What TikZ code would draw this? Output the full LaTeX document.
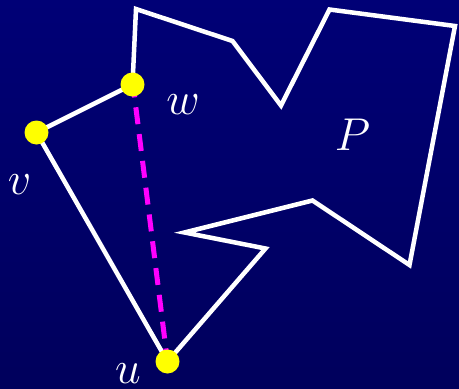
\documentclass[tikz,border=0pt]{standalone}
\usepackage{graphicx}
\usepackage{tikz}
\definecolor{bgtop}{RGB}{0,0,118}
\definecolor{bgbot}{RGB}{0,0,92}
\definecolor{dotyellow}{RGB}{255,255,0}
\definecolor{diag}{RGB}{255,0,255}
\newcommand{\biglbl}[1]{\scalebox{1.85}{\Huge$#1$}}
\begin{document}
\begin{tikzpicture}[x=1pt,y=-1pt,
  edge/.style={draw=white,line width=4.5pt,line join=miter},
  vtx/.style={circle,fill=dotyellow,minimum size=24pt,inner sep=0pt},
  lbl/.style={text=white,inner sep=0pt},
  diagonal/.style={draw=diag,line width=5pt,dash pattern=on 17pt off 10pt}]
\shade[top color=bgtop,bottom color=bgbot] (0,0) rectangle (459,389);
\useasboundingbox (0,0) rectangle (459,389);
\coordinate (u) at (167.5,361.5);
\coordinate (v) at (36.5,132.5);
\coordinate (w) at (132.5,84.5);
\coordinate (a1) at (136,9);
\coordinate (a2) at (232.5,41);
\coordinate (a3) at (281,105.5);
\coordinate (a4) at (329.5,9.5);
\coordinate (a5) at (455,26);
\coordinate (a6) at (409.5,265);
\coordinate (a7) at (312.5,200.5);
\coordinate (a8) at (184.5,232.5);
\coordinate (a9) at (265.5,248.5);
\draw[edge] (u) -- (v) -- (w) -- (a1) -- (a2) -- (a3) -- (a4) -- (a5) -- (a6) -- (a7) -- (a8) -- (a9) -- cycle;
\draw[diagonal] ([yshift=4pt]w) -- (u);
\node[vtx] (nu) at (u) {};
\node[vtx] (nv) at (v) {};
\node[vtx] (nw) at (w) {};
\node[lbl] (lw) at (183,105) {\biglbl{w}};
\node[lbl] (lv) at (19.5,185) {\biglbl{v}};
\node[lbl] (lu) at (128,374) {\biglbl{u}};
\node[lbl] (lp) at (352.5,135) {\biglbl{P}};
\end{tikzpicture}
\end{document}
